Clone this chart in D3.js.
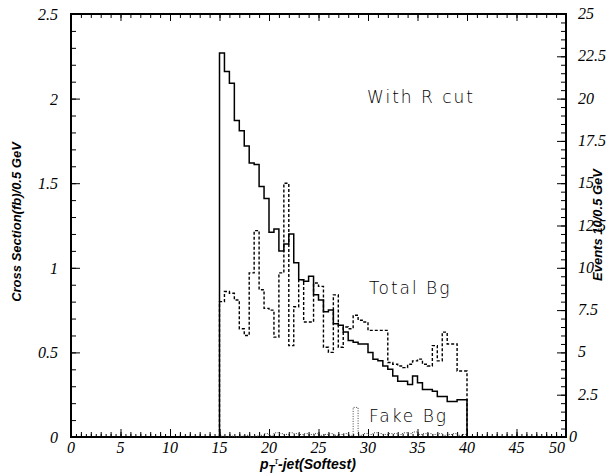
<!DOCTYPE html>
<html>
<head>
<meta charset="utf-8">
<script src="https://cdn.jsdelivr.net/npm/d3@7"></script>
<style>
  body { margin: 0; background: #fff; }
  svg { display: block; }
  .tl { font-family: "Liberation Serif", "DejaVu Serif", serif; font-style: italic; font-size: 16px; }
  .ttl { font-family: "Liberation Sans", Arial, sans-serif; font-weight: bold; font-style: italic; }
</style>
</head>
<body>
<div id="chart-area"></div>
<script>
// bins of 0.5 GeV, 15 -> 40
var binLow = d3.range(15, 40, 0.5);

// "With R cut" signal
var signal = [2.27, 2.16, 2.09, 1.87, 1.81, 1.72, 1.62, 1.61, 1.48, 1.41,
              1.21, 1.23, 1.10, 1.14, 1.20, 1.03, 0.93, 0.92, 0.95, 0.84,
              0.81, 0.74, 0.75, 0.67, 0.66, 0.62, 0.57, 0.56, 0.55, 0.55,
              0.50, 0.46, 0.45, 0.42, 0.40, 0.36, 0.33, 0.33, 0.31, 0.36,
              0.32, 0.28, 0.28, 0.27, 0.24, 0.24, 0.21, 0.21, 0.22, 0.22];

// Total Bg
var totalBg = [0.80, 0.86, 0.85, 0.81, 0.64, 0.60, 0.97, 1.22, 0.87, 0.76,
               0.75, 0.59, 0.97, 1.50, 0.54, 0.77, 0.93, 0.68, 0.68, 0.91,
               0.89, 0.53, 0.50, 0.84, 0.53, 0.65, 0.64, 0.72, 0.69, 0.68,
               0.63, 0.63, 0.63, 0.63, 0.44, 0.43, 0.42, 0.41, 0.43, 0.45,
               0.46, 0.43, 0.42, 0.54, 0.45, 0.62, 0.55, 0.55, 0.39, 0.39];

// Fake Bg
var fakeBg = [0.005, 0, 0.005, 0, 0.005, 0.01, 0, 0.005, 0.01, 0.02,
              0.01, 0.025, 0.02, 0.015, 0.025, 0.02, 0.015, 0.02, 0.015, 0.02,
              0.01, 0.015, 0.02, 0.01, 0.015, 0.02, 0.01, 0.175, 0.01, 0.02,
              0.015, 0.025, 0.02, 0.015, 0.02, 0.02, 0.015, 0.025, 0.02, 0.03,
              0.015, 0.02, 0.02, 0.015, 0.02, 0.01, 0.015, 0.02, 0.01, 0.015];

var xTicks = [0, 5, 10, 15, 20, 25, 30, 35, 40, 45, 50];
var yTicks = [0, 0.5, 1, 1.5, 2, 2.5];
var yRTicks = [0, 2.5, 5, 7.5, 10, 12.5, 15, 17.5, 20, 22.5, 25];

var W = 613, H = 475;
var L = 71, R = 566, T = 14, B = 437;

var svg = d3.select("#chart-area").append("svg")
    .attr("width", W).attr("height", H);

var x = d3.scaleLinear().domain([0, 50]).range([L, R]);
var y = d3.scaleLinear().domain([0, 2.5]).range([B, T]);
var yR = d3.scaleLinear().domain([0, 25]).range([B, T]);

// minor / major ticks, all pointing inside
function ticks(axis, vals, size) {
    var g = svg.append("g").attr("class", "ticks");
    g.call(axis.tickValues(vals).tickSize(-size).tickFormat(""));
    g.select(".domain").remove();
    g.selectAll("line").attr("stroke", "#000").attr("stroke-width", 1);
    return g;
}
function off(g, tx, ty) { g.attr("transform", "translate(" + tx + "," + ty + ")"); }

off(ticks(d3.axisBottom(x), d3.range(0, 50.01, 0.5), 3), 0, B);
off(ticks(d3.axisBottom(x), d3.range(0, 50.01, 1), 5), 0, B);
off(ticks(d3.axisBottom(x), xTicks, 8), 0, B);
off(ticks(d3.axisTop(x), d3.range(0, 50.01, 1), 4), 0, T);
off(ticks(d3.axisTop(x), xTicks, 7), 0, T);
off(ticks(d3.axisLeft(y), d3.range(0, 2.501, 0.1), 5), L, 0);
off(ticks(d3.axisLeft(y), yTicks, 9), L, 0);
off(ticks(d3.axisRight(yR), d3.range(0, 25.01, 0.5), 5), R, 0);
off(ticks(d3.axisRight(yR), yRTicks, 9), R, 0);

// frame
svg.append("rect")
    .attr("x", L).attr("y", T)
    .attr("width", R - L).attr("height", B - T)
    .attr("fill", "none").attr("stroke", "#000").attr("stroke-width", 2);

// tick labels
svg.selectAll(".xlab").data(xTicks).enter().append("text")
    .attr("class", "tl xlab")
    .attr("x", function(d) { return d == 50 ? x(d) - 1 : x(d); })
    .attr("y", 453)
    .attr("text-anchor", function(d) { return d == 50 ? "end" : "middle"; })
    .text(function(d) { return d; });

svg.selectAll(".ylab").data(yTicks).enter().append("text")
    .attr("class", "tl ylab")
    .attr("x", 58)
    .attr("y", function(d) { return y(d) + 6; })
    .attr("text-anchor", "end")
    .text(function(d) { return d; });

svg.selectAll(".yrlab").data(yRTicks).enter().append("text")
    .attr("class", "tl yrlab")
    .attr("x", function(d) { return d == 0 ? 569 : 578; })
    .attr("y", function(d) { return yR(d) + 5; })
    .text(function(d) { return d; });

// histograms
function histPoints(vals) {
    var pts = [[binLow[0], 0]];
    vals.forEach(function(v, i) { pts.push([binLow[i], v]); });
    pts.push([binLow[binLow.length - 1] + 0.5, vals[vals.length - 1]]);
    pts.push([binLow[binLow.length - 1] + 0.5, 0]);
    return pts;
}
var line = d3.line()
    .x(function(d) { return x(d[0]); })
    .y(function(d) { return y(d[1]); })
    .curve(d3.curveStepAfter);

svg.append("path").attr("d", line(histPoints(fakeBg)))
    .attr("fill", "none").attr("stroke", "#444").attr("stroke-width", 1)
    .attr("stroke-dasharray", "1,1.5");
svg.append("path").attr("d", line(histPoints(totalBg)))
    .attr("fill", "none").attr("stroke", "#000").attr("stroke-width", 1.4)
    .attr("stroke-dasharray", "3,2");
svg.append("path").attr("d", line(histPoints(signal)))
    .attr("fill", "none").attr("stroke", "#000").attr("stroke-width", 1.5);

// labels inside plot
[["With R cut", 367, 103], ["Total Bg", 369, 294], ["Fake Bg", 369, 422]].forEach(function(t) {
    svg.append("text")
        .attr("x", t[1]).attr("y", t[2])
        .style("font-family", "'DejaVu Sans', sans-serif").style("font-weight", 300)
        .style("font-size", "17px").style("letter-spacing", "2px")
        .attr("fill", "#000")
        .text(t[0]);
});

// axis titles
svg.append("text")
    .attr("class", "ttl")
    .attr("transform", "translate(21,222) rotate(-90)")
    .attr("text-anchor", "middle")
    .style("font-size", "13px")
    .text("Cross Section(fb)/0.5 GeV");

svg.append("text")
    .attr("class", "ttl")
    .attr("transform", "translate(602,225) rotate(-90)")
    .attr("text-anchor", "middle")
    .style("font-size", "13px")
    .text("Events 10/0.5 GeV");

var xt = svg.append("text")
    .attr("class", "ttl")
    .attr("x", 260).attr("y", 469)
    .style("font-size", "14px");
xt.append("tspan").text("p");
xt.append("tspan").attr("dy", 4).style("font-size", "10px").text("T");
xt.append("tspan").attr("dy", -9).style("font-size", "9px").style("font-weight", "normal").text("τ");
xt.append("tspan").attr("dy", 5).text("-jet(Softest)");
</script>
</body>
</html>
